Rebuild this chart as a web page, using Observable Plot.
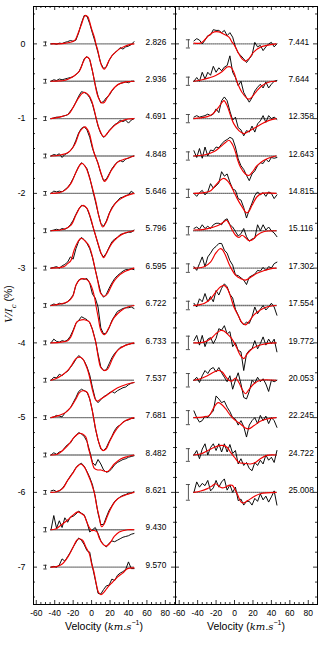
<!DOCTYPE html>
<html><head><meta charset="utf-8">
<script src="https://cdn.jsdelivr.net/npm/d3@7"></script>
<script src="https://cdn.jsdelivr.net/npm/@observablehq/plot@0.6"></script>
<style>
body{margin:0;background:#fff;}
#wrap{position:relative;width:325px;height:650px;font-family:"Liberation Sans",Arial,sans-serif;color:#000;overflow:hidden;}
#left{position:absolute;left:0;top:0;}
#right{position:absolute;left:175px;top:0;}
.xl{position:absolute;top:617px;font-size:10.5px;white-space:nowrap;transform:translateX(-50%);line-height:12px;}
.m{font-family:"DejaVu Serif","Liberation Serif",serif;font-style:italic;font-size:10px;}
sup{font-size:7px;}
#yl{position:absolute;left:10px;top:304px;transform:translate(-50%,-50%) rotate(-90deg);font-size:10.5px;white-space:nowrap;}
</style></head><body><div id="wrap"><div id="left"></div><div id="right"></div>
<div class="xl" style="left:104px">Velocity (<span class="m">km.s</span><sup>−1</sup>)</div>
<div class="xl" style="left:246px">Velocity (<span class="m">km.s</span><sup>−1</sup>)</div>
<div id="yl"><span class="m">V/I</span><sub style="font-size:7px" class="m">c</sub> (%)</div>
</div>
<script>
// ---------------- DATA ----------------
const leftLabels = ["2.826","2.936","4.691","4.848","5.646","5.796","6.595","6.722","6.733","7.537","7.681","8.482","8.621","9.430","9.570"];
const rightLabels = ["7.441","7.644","12.358","12.643","14.815","15.116","17.302","17.554","19.772","20.053","22.245","24.722","25.008"];
const xTickLabels = [-60,-40,-20,0,20,40,60,80];
const yTickLabels = [0,-1,-2,-3,-4,-5,-6,-7];
const profileSpacing = 0.5;

// observed Stokes V velocity grid (km/s)
const obsVelocity = [-44,-41,-38,-35,-32,-29,-26,-23,-20,-17,-14,-11,-8,-5,-2,1,4,7,10,13,16,19,22,25,28,31,34,37,40,43,46];

const leftObserved = [
 [0,0.005,-0.005,0.01,0.005,0.02,0.03,0.045,0.035,0.05, 0.15,0.28,0.38,0.37,0.27,0.14,0.02,-0.12,-0.26,-0.33, -0.31,-0.22,-0.16,-0.12,-0.09,-0.05,-0.07,-0.04,-0.03,-0.01, 0.03],
 [0,0.02,0.01,0.03,0.02,0.03,0.04,0.05,0.06,0.09, 0.12,0.2,0.3,0.33,0.29,0.13,-0.05,-0.2,-0.29,-0.27, -0.22,-0.19,-0.13,-0.08,-0.05,-0.03,-0.02,-0.01,-0.02,0, 0],
 [0,0.01,0.02,0.02,0.03,0.04,0.05,0.1,0.15,0.22, 0.3,0.36,0.35,0.33,0.28,0.19,0.05,-0.1,-0.2,-0.25, -0.22,-0.16,-0.12,-0.08,-0.06,-0.02,-0.04,-0.02,-0.06,-0.02, 0],
 [0,0.02,0.01,0.03,-0.02,0.02,0.04,0.07,0.12,0.21, 0.31,0.37,0.39,0.35,0.25,0.1,0,-0.1,-0.23,-0.33, -0.31,-0.24,-0.17,-0.12,-0.08,-0.06,-0.08,-0.04,-0.03,-0.01, 0],
 [0,0.03,0.02,0.03,0.02,0.05,0.08,0.13,0.2,0.28, 0.36,0.41,0.38,0.33,0.21,0.05,-0.1,-0.26,-0.4,-0.44, -0.37,-0.27,-0.19,-0.14,-0.1,-0.06,-0.05,-0.03,-0.02,0.03, 0],
 [0,0.01,0.02,0.01,0.03,0.02,0.04,0.08,0.14,0.22, 0.29,0.34,0.33,0.3,0.2,0.07,-0.05,-0.18,-0.3,-0.35, -0.3,-0.22,-0.15,-0.11,-0.09,-0.05,-0.04,-0.03,-0.02,-0.02, 0.01],
 [0,0.01,0.02,0,0.03,0.05,0.08,0.15,0.12,0.26, 0.36,0.41,0.38,0.33,0.26,0.14,-0.02,-0.18,-0.33,-0.39, -0.35,-0.27,-0.2,-0.14,-0.1,-0.07,-0.04,-0.02,-0.02,-0.01, -0.02],
 [0,0.02,0.01,0.03,0.02,0.03,0.05,0.09,0.14,0.27, 0.34,0.36,0.35,0.36,0.3,0.15,0.1,-0.02,-0.3,-0.38, -0.37,-0.3,-0.2,-0.14,-0.08,-0.06,-0.04,-0.03,-0.03,-0.02, -0.04],
 [0,0.05,0.02,0.01,0.03,0.02,0.04,0.09,0.17,0.26, 0.3,0.35,0.33,0.31,0.27,0.18,0.04,-0.15,-0.32,-0.37, -0.36,-0.28,-0.2,-0.14,-0.1,-0.06,-0.05,-0.03,-0.02,-0.01, -0.01],
 [0,0.04,0.03,0.08,0.06,0.1,0.12,0.17,0.22,0.28, 0.33,0.3,0.26,0.18,0.07,-0.1,-0.25,-0.3,-0.26,-0.22, -0.2,-0.17,-0.15,-0.17,-0.14,-0.12,-0.1,-0.09,-0.06,-0.04, -0.03],
 [0,0.01,0.03,0.02,0.01,0.06,0.1,0.13,0.2,0.27, 0.35,0.38,0.36,0.34,0.25,0.08,-0.14,-0.3,-0.42,-0.44, -0.4,-0.32,-0.25,-0.17,-0.12,-0.1,-0.06,-0.04,-0.03,-0.01, -0.01],
 [0,0.03,0.01,0.04,0.05,0.1,0.14,0.16,0.22,0.26, 0.3,0.28,0.25,0.18,0.05,-0.1,-0.14,-0.06,-0.12,-0.2, -0.23,-0.22,-0.18,-0.13,-0.1,-0.08,-0.06,-0.05,-0.03,-0.02, -0.01],
 [0.02,0.03,0.01,0.02,0.05,0.1,0.16,0.22,0.27,0.33, 0.37,0.39,0.35,0.28,0.2,0.1,-0.06,-0.28,-0.43,-0.43, -0.33,-0.24,-0.18,-0.12,-0.09,-0.06,-0.04,-0.03,-0.01,-0.01, 0.01],
 [0,0.19,0.02,0.12,0.03,0.16,0.1,0.17,0.18,0.21, 0.25,0.22,0.2,0.1,-0.03,0,0.03,-0.05,-0.15,-0.2, -0.23,-0.18,-0.15,-0.16,-0.14,-0.12,-0.1,-0.09,-0.08,-0.06, -0.05],
 [0,0.01,0,0.03,0.11,0.08,0.14,0.2,0.27,0.33, 0.39,0.36,0.3,0.22,0.2,0,-0.17,-0.35,-0.36,-0.3, -0.25,-0.24,-0.16,-0.18,-0.11,-0.08,-0.06,-0.03,0.07,-0.02, -0.02]
];

const rightObserved = [
 [0.04,0.07,0.05,0,0.05,0.11,0.12,0.19,0.18,0.18, 0.15,0.18,0.11,0.15,0.09,-0.04,-0.12,-0.16,-0.2,-0.25, -0.2,-0.15,0.02,-0.04,-0.02,-0.09,-0.04,0,0.02,-0.04, 0],
 [0,0.05,0,0.12,0.03,0.12,0.08,0.2,0.12,0.18, 0.14,0.19,0.21,0.34,0.12,0.05,-0.06,0,-0.15,-0.22, -0.28,-0.22,-0.13,-0.08,-0.04,-0.09,-0.01,-0.09,-0.04,0, 0.01],
 [0.02,0.04,0.02,0.03,0.04,0.06,0.04,0.06,0.13,0.08, 0.24,0.29,0.24,0.1,-0.02,0.02,-0.12,-0.15,-0.23,-0.16, -0.18,-0.1,-0.18,-0.07,-0.03,0.04,-0.05,0.04,0,0.02, -0.01],
 [0.07,-0.02,0.1,-0.03,0.12,0,0.08,0.07,0.12,0.11, 0.16,0.2,0.22,0.25,0.23,0.12,-0.04,-0.13,-0.18,-0.26, -0.33,-0.24,-0.2,-0.13,-0.09,-0.1,-0.04,-0.08,-0.02,-0.03, -0.02],
 [0,-0.04,0.01,0.04,-0.02,0.02,0.13,0.07,0.1,0.14, 0.29,0.23,0.26,0.15,0.06,0.04,-0.07,-0.09,-0.19,-0.33, -0.22,-0.13,-0.03,0.02,-0.02,0.01,-0.04,0.02,0,-0.07, -0.02],
 [0.03,0.05,0.02,0.08,0.03,0.06,0.03,0.08,0.1,0.1, 0.08,0.14,0.16,0.08,0.05,-0.01,-0.07,-0.04,0.03,-0.08, -0.14,-0.11,-0.1,0.08,0,0.08,0.01,0.05,0,-0.03, -0.08],
 [0.02,-0.03,0.06,0.15,0.02,0.15,0.2,0.26,0.29,0.33, 0.33,0.24,0.2,0.1,0.04,-0.09,-0.1,-0.13,-0.16,-0.22, -0.12,-0.1,-0.08,-0.03,-0.04,0.01,-0.03,0.02,0,0.06, 0.08],
 [0.03,-0.02,0.09,0.05,0.16,0.05,0.12,0.05,0.2,0.14, 0.23,0.29,0.25,0.15,0.1,-0.05,-0.13,-0.22,-0.26,-0.22, -0.24,-0.15,-0.02,-0.11,-0.05,0,-0.06,-0.02,0.03,-0.02, -0.13],
 [0.03,0.1,-0.03,0.1,-0.05,0.05,0.07,-0.01,0.06,0.19, 0.17,0.23,0.12,0.15,-0.05,0,-0.1,-0.12,-0.37,-0.15, -0.1,-0.08,0.03,-0.08,-0.01,0.08,-0.03,0.05,-0.01,0.05, -0.12],
 [0,0.04,-0.03,0.06,0.13,0.09,0.15,0.17,0.11,0.17, 0.1,0.04,-0.02,0.06,-0.12,0,0.1,-0.05,-0.23,-0.25, -0.15,0,-0.04,0.04,-0.02,0.02,-0.05,-0.15,0,-0.02, 0],
 [0.09,0,-0.06,-0.04,0.02,0,0.05,0.09,0.29,0.25, 0.2,0.22,0.14,0.08,0,-0.02,-0.1,-0.04,-0.12,-0.26, -0.1,-0.04,0,-0.08,0.03,-0.04,0.02,-0.08,0,-0.04, -0.13],
 [0,0.06,-0.05,0.08,0.15,0,0.1,0.15,0.06,0.15, 0.04,0.15,0.04,0.14,0.02,0.06,-0.12,-0.05,-0.14,-0.1, -0.18,-0.21,-0.1,-0.14,-0.07,-0.12,0,-0.07,-0.03,-0.1, 0.06],
 [0,0.14,0.07,0.12,0.09,0.16,0.02,0.06,0.16,0.07, 0.14,0.18,0.03,0.1,0,0.07,-0.11,-0.09,-0.17,-0.12, -0.12,-0.17,-0.08,-0.12,-0.02,-0.1,-0.05,-0.13,-0.06,0.02, -0.17]
];

// model profiles: [velocity, V/Ic] pairs
const leftModel = [
 [[-44,0],[-35,0],[-28,0.01],[-22,0.025],[-18,0.05],[-15,0.13],[-11,0.26],[-7,0.38],[-4,0.36],[-2.5,0.31],[0,0.2],[3,0.09],[4.7,0],[7,-0.1],[9,-0.22],[11.5,-0.31],[13.8,-0.34],[16,-0.3],[19,-0.22],[22,-0.16],[26,-0.11],[30,-0.07],[35.5,-0.035],[41,-0.01],[46,0]],
 [[-44,0],[-35,0.005],[-30,0.01],[-25,0.03],[-18,0.08],[-13,0.14],[-9,0.26],[-6,0.32],[-3,0.31],[0,0.19],[3,0.01],[6,-0.17],[9,-0.26],[11,-0.29],[14,-0.28],[16,-0.24],[19,-0.18],[22,-0.125],[26,-0.07],[30,-0.035],[35,-0.015],[40,-0.005],[46,0]],
 [[-44,0],[-35,0.02],[-25,0.06],[-20,0.15],[-15,0.26],[-10,0.34],[-7,0.35],[-3,0.31],[0,0.24],[3,0.11],[5,0],[9,-0.16],[12,-0.23],[13.5,-0.24],[18,-0.18],[25,-0.09],[30,-0.05],[35,-0.02],[40,-0.005],[46,0]],
 [[-44,0],[-35,0.01],[-25,0.05],[-18,0.16],[-13,0.32],[-9,0.38],[-7,0.39],[-3,0.32],[0,0.18],[3,0.03],[6.5,-0.08],[10,-0.22],[14,-0.34],[17,-0.3],[21,-0.2],[25,-0.13],[28,-0.085],[34,-0.05],[39,-0.03],[46,0]],
 [[-44,0],[-35,0.01],[-28,0.05],[-22,0.14],[-17,0.28],[-12,0.39],[-10,0.4],[-6,0.34],[-2,0.2],[2,0.02],[5,-0.13],[8,-0.31],[12,-0.45],[16,-0.38],[20,-0.25],[26,-0.13],[32,-0.07],[38,-0.03],[46,0]],
 [[-44,0],[-30,0.02],[-22,0.08],[-17,0.21],[-12,0.32],[-9,0.34],[-5,0.3],[-1,0.17],[3,-0.01],[7,-0.17],[10,-0.29],[13,-0.36],[17,-0.28],[22,-0.17],[28,-0.09],[35,-0.035],[46,0]],
 [[-44,0],[-30,0.02],[-26,0.06],[-22.5,0.1],[-19,0.24],[-15,0.35],[-11.5,0.4],[-6,0.35],[-2.5,0.29],[1,0.15],[3.6,0],[6.5,-0.16],[10,-0.34],[13.8,-0.38],[17.4,-0.34],[23,-0.2],[28,-0.12],[35.5,-0.05],[46,0]],
 [[-44,0],[-26,0.05],[-20.5,0.12],[-17,0.27],[-13.4,0.34],[-9.8,0.36],[-4.3,0.34],[-0.7,0.27],[3,0.12],[4.7,0],[7.2,-0.16],[10,-0.33],[13.8,-0.39],[19,-0.29],[24.6,-0.16],[31.9,-0.07],[39,-0.02],[46,0]],
 [[-44,0],[-33,0.01],[-26,0.03],[-22.5,0.08],[-19,0.19],[-16,0.28],[-13.4,0.3],[-8,0.31],[-2.5,0.28],[0,0.21],[3,0.08],[4.7,0],[7.2,-0.19],[10,-0.33],[13.8,-0.37],[17.4,-0.35],[22.8,-0.21],[28.3,-0.1],[35.5,-0.04],[46,0]],
 [[-44,0],[-39,0.02],[-33,0.06],[-26,0.13],[-20.7,0.22],[-17,0.29],[-13.4,0.31],[-9.8,0.29],[-6.2,0.2],[-3.6,0.11],[-1.4,0],[1.1,-0.14],[4.7,-0.27],[6.5,-0.28],[10,-0.25],[14,-0.22],[21,-0.16],[28.3,-0.1],[39,-0.05],[46,-0.03]],
 [[-44,0],[-35,0.03],[-28,0.07],[-22.5,0.14],[-17,0.25],[-13.4,0.33],[-9.8,0.36],[-5,0.34],[-2.5,0.27],[0,0.14],[2.2,0],[4.7,-0.17],[8.3,-0.35],[12,-0.44],[15.6,-0.42],[19.2,-0.33],[24.6,-0.2],[30,-0.11],[37,-0.04],[46,0]],
 [[-44,0],[-37,0.01],[-29.7,0.08],[-24.3,0.15],[-18.8,0.24],[-13.4,0.29],[-9.8,0.28],[-6.2,0.24],[-3.6,0.1],[-1.4,0],[1.1,-0.12],[3,-0.18],[6.5,-0.2],[10,-0.2],[17.4,-0.22],[24.6,-0.12],[31.9,-0.05],[39,-0.02],[46,0]],
 [[-44,0],[-39,0.005],[-31.5,0.05],[-26,0.16],[-20.7,0.25],[-16,0.34],[-11.6,0.38],[-8,0.34],[-3.6,0.23],[-0.7,0.14],[1.1,0.07],[2.9,0],[5.8,-0.2],[8.3,-0.33],[10.9,-0.46],[13.8,-0.42],[17.4,-0.31],[22.8,-0.17],[28.3,-0.085],[35.5,-0.04],[46,0]],
 [[-44,0],[-39,0.01],[-33.3,0.06],[-26,0.13],[-20.7,0.19],[-15.2,0.24],[-11.6,0.22],[-8,0.19],[-5.1,0.1],[-2.5,0.03],[0,-0.01],[2.9,-0.01],[5.8,-0.03],[8.3,-0.11],[12,-0.19],[15.6,-0.22],[19.2,-0.19],[24.6,-0.09],[30,-0.03],[39,0],[46,0]],
 [[-44,0],[-37,0.01],[-31.5,0.045],[-26,0.13],[-20.7,0.25],[-16,0.36],[-13.4,0.38],[-9.8,0.36],[-6.2,0.27],[-2.5,0.18],[0,0.045],[2.2,-0.045],[4.7,-0.2],[7.2,-0.33],[10.1,-0.37],[13.8,-0.33],[17.4,-0.27],[22.8,-0.2],[28.3,-0.13],[33.7,-0.08],[39,-0.02],[46,-0.01]]
];

const rightModel = [
 [[-44,0.01],[-37,0.01],[-33,0.045],[-28,0.11],[-22,0.16],[-17,0.16],[-11.5,0.13],[-6,0.09],[-2.5,0.02],[0,-0.02],[3.6,-0.11],[8.2,-0.2],[11.8,-0.23],[15.4,-0.2],[20.8,-0.11],[28,-0.045],[35,-0.02],[45,0]],
 [[-44,0],[-35,0.02],[-27.6,0.045],[-20.4,0.076],[-13.3,0.13],[-7.9,0.19],[-4.3,0.19],[-0.7,0.12],[2.9,-0.013],[8.2,-0.15],[15.4,-0.24],[19,-0.21],[24.4,-0.125],[29.7,-0.06],[36.9,-0.013],[45,0]],
 [[-44,0],[-37,0.01],[-29.4,0.027],[-24,0.06],[-18.6,0.13],[-13.3,0.22],[-11.5,0.24],[-7.9,0.17],[-4.3,0.04],[-0.7,-0.07],[4.7,-0.16],[10,-0.2],[15.4,-0.17],[22.6,-0.12],[29.7,-0.07],[36.9,-0.027],[45,0]],
 [[-44,0],[-33,0.013],[-22,0.06],[-15,0.125],[-9.7,0.18],[-6,0.21],[-2.5,0.16],[1.1,0.05],[3.6,-0.06],[6.5,-0.15],[11.8,-0.24],[15.4,-0.26],[19,-0.22],[24.4,-0.13],[31.5,-0.06],[38.7,-0.02],[45,0]],
 [[-44,0],[-33,0.01],[-25.8,0.036],[-20.4,0.11],[-15.1,0.18],[-11.5,0.2],[-7.9,0.17],[-4.3,0.11],[-0.7,0.02],[2.9,-0.07],[8.2,-0.18],[12.9,-0.26],[15.4,-0.245],[19,-0.16],[24.4,-0.045],[29.7,0],[45,0]],
 [[-44,0.01],[-33,0.018],[-24,0.045],[-16.8,0.076],[-11.5,0.12],[-8.6,0.14],[-6.1,0.1],[-2.5,0.01],[1.1,-0.06],[4.7,-0.09],[8.2,-0.06],[11.8,-0.09],[15.4,-0.13],[19,-0.125],[24.4,-0.06],[31.5,-0.013],[45,0]],
 [[-44,0],[-33,0.018],[-25.8,0.085],[-20.4,0.2],[-15.8,0.26],[-13.3,0.25],[-9.7,0.17],[-6.1,0.06],[-2.5,-0.027],[1.1,-0.094],[6.5,-0.14],[11.8,-0.16],[17.2,-0.125],[24.4,-0.07],[31.5,-0.036],[38.7,-0.01],[45,0]],
 [[-44,0],[-33,0.027],[-25.8,0.09],[-20.4,0.18],[-15.1,0.25],[-11.5,0.27],[-7.9,0.23],[-4.3,0.12],[-0.7,-0.02],[4.7,-0.15],[8.2,-0.23],[11.8,-0.26],[15.4,-0.22],[20.8,-0.13],[28,-0.06],[35,-0.02],[45,0]],
 [[-44,0],[-33,0.01],[-25.8,0.054],[-20.4,0.12],[-15.1,0.165],[-11.5,0.16],[-7.9,0.12],[-4.3,0.076],[-0.7,0.01],[2.9,-0.08],[6.5,-0.17],[10,-0.21],[13.6,-0.15],[19,-0.08],[26.2,-0.036],[35,-0.01],[45,0]],
 [[-44,0],[-37,0.02],[-29.4,0.06],[-22.2,0.11],[-16.8,0.13],[-13.3,0.11],[-9.7,0.05],[-6.1,0],[-2.5,-0.01],[1.1,0.03],[4.7,-0.03],[8.2,-0.12],[11.8,-0.18],[15.4,-0.13],[20.8,-0.05],[28,0],[45,0]],
 [[-44,0],[-33,0.01],[-27.6,0.027],[-22.2,0.14],[-17.9,0.2],[-14.3,0.18],[-9.7,0.12],[-4.3,0.027],[1.1,-0.04],[6.5,-0.085],[11.8,-0.14],[15.4,-0.15],[20.8,-0.11],[28,-0.05],[35,-0.018],[45,0]],
 [[-44,0],[-37,0.013],[-29.4,0.058],[-22.2,0.1],[-16.8,0.125],[-11.5,0.125],[-7.9,0.1],[-4.3,0.036],[0,-0.03],[4.7,-0.1],[10,-0.11],[17.2,-0.12],[22.6,-0.1],[28,-0.05],[35,-0.005],[45,0]],
 [[-44,0],[-36.6,0.018],[-29.4,0.05],[-24,0.09],[-20.4,0.116],[-16.8,0.08],[-13.3,0.06],[-9.7,0.07],[-6.1,0.094],[-2.5,0.094],[0,0.05],[3.6,-0.04],[7.2,-0.13],[10,-0.14],[14.3,-0.11],[20.8,-0.06],[28,-0.018],[45,0]]
];

// error bar half-lengths (%)
const leftErr = [0.025,0.025,0.025,0.025,0.025,0.025,0.025,0.025,0.025,0.025,0.025,0.025,0.025,0.028,0.025];
const rightErr = [0.055,0.055,0.055,0.055,0.055,0.055,0.057,0.057,0.09,0.09,0.094,0.085,0.105];

// ---------------- DRAW ----------------
function panel(observed, model, labels, errs, xdom, width, ml, mr, showY, errCap, errColor) {
  const H = 650, mt = 6, mb = 46;
  const fw = width - ml - mr, fh = H - mt - mb;
  const obsRows = [], modRows = [], baseRows = [], errRows = [], labRows = [];
  observed.forEach((vals, i) => {
    const off = -profileSpacing * i;
    vals.forEach((v, k) => obsRows.push({v: obsVelocity[k], y: off + v, i}));
    model[i].forEach(([v, y]) => modRows.push({v, y: off + y, i}));
    baseRows.push({x1: obsVelocity[0], x2: obsVelocity[obsVelocity.length - 1], y: off});
    errRows.push({x: -50, y1: off - errs[i], y2: off + errs[i]});
    labRows.push({y: off, t: labels[i]});
  });
  const yMinor = d3.range(-37, 3).map(k => k * 0.2).filter(d => Math.abs(d - Math.round(d)) > 1e-6);
  const xMinor = d3.range(-60, 95, 5).filter(d => d >= xdom[0] && d <= xdom[1] && d % 20 !== 0);
  const tk = {stroke: "black", strokeWidth: 0.8};
  const marks = [
    Plot.ruleY(baseRows, {y: "y", x1: "x1", x2: "x2", stroke: "black", strokeWidth: 1.3, strokeDasharray: "1,1"}),
    Plot.line(obsRows, {x: "v", y: "y", z: "i", stroke: "black", strokeWidth: 0.95}),
    Plot.line(modRows, {x: "v", y: "y", z: "i", stroke: "#f00000", strokeWidth: 1.15, curve: "catmull-rom"}),
    Plot.ruleX(errRows, {x: "x", y1: "y1", y2: "y2", stroke: errColor, strokeWidth: 0.9}),
    Plot.ruleY(errRows, {y: "y1", x1: d => d.x - errCap, x2: d => d.x + errCap, stroke: errColor, strokeWidth: 0.9}),
    Plot.ruleY(errRows, {y: "y2", x1: d => d.x - errCap, x2: d => d.x + errCap, stroke: errColor, strokeWidth: 0.9}),
    Plot.text(labRows, {x: d => 58.5, y: "y", text: "t", textAnchor: "start", dy: -2, fontSize: 8.3, fill: "black"}),
    // inward frame ticks
    Plot.tickY(yTickLabels, {y: d => d, insetRight: fw - 4, ...tk}),
    Plot.tickY(yTickLabels, {y: d => d, insetLeft: fw - 4, ...tk}),
    Plot.tickY(yMinor, {y: d => d, insetRight: fw - 2, ...tk}),
    Plot.tickY(yMinor, {y: d => d, insetLeft: fw - 2, ...tk}),
    Plot.tickX(xTickLabels, {x: d => d, insetBottom: fh - 4, ...tk}),
    Plot.tickX(xTickLabels, {x: d => d, insetTop: fh - 4, ...tk}),
    Plot.tickX(xMinor, {x: d => d, insetBottom: fh - 2, ...tk}),
    Plot.tickX(xMinor, {x: d => d, insetTop: fh - 2, ...tk}),
    Plot.frame({stroke: "black", strokeWidth: 1}),
    Plot.axisX({ticks: xTickLabels, tickSize: 0, tickPadding: 5, tickFormat: d => String(d), label: null, fontSize: 8.5})
  ];
  if (showY) marks.push(Plot.axisY({ticks: yTickLabels, tickSize: 0, tickPadding: 8, tickFormat: d => String(d), label: null, fontSize: 8.8}));
  return Plot.plot({
    width, height: H, marginLeft: ml, marginRight: mr, marginTop: mt, marginBottom: mb,
    x: {domain: xdom},
    y: {domain: [-7.5, 0.5], axis: showY ? undefined : null},
    style: {fontFamily: "'Liberation Sans', Arial, sans-serif", fontSize: "8.5px", color: "black", background: "transparent", overflow: "visible"},
    marks
  });
}

document.getElementById("left").append(panel(leftObserved, leftModel, leftLabels, leftErr, [-63, 91], 175, 33, 0, true, 1.8, "#222"));
document.getElementById("right").append(panel(rightObserved, rightModel, rightLabels, rightErr, [-64, 90], 150, 0, 8, false, 2.2, "#444"));
</script></body></html>
